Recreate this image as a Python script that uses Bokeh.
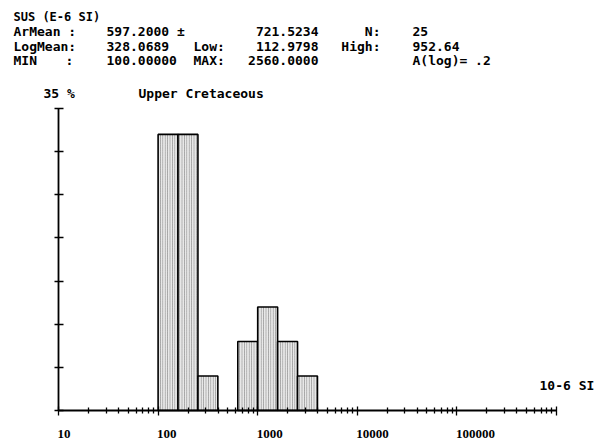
from bokeh.plotting import figure
from bokeh.models import (ColumnDataSource, Label, LabelSet, FixedTicker,
                          CustomJSTickFormatter, Range1d)
from bokeh.embed import file_html
from bokeh.resources import INLINE

# Susceptibility histogram: log10 bin edges (width A(log) = 0.2) and percent of N = 25
bin_left_log = [2.0, 2.2, 2.4, 2.8, 3.0, 3.2, 3.4]
bin_width_log = 0.2
percent = [32, 32, 4, 8, 12, 8, 4]

# Axis ticks
x_major_ticks = [10, 100, 1000, 10000, 100000, 1000000]
x_tick_labels = ["10", "100", "1000", "10000", "100000"]
y_ticks = [0, 5, 10, 15, 20, 25, 30, 35]

title_text = "Upper Cretaceous"
y_top_label = "35 %"
unit_label = "10-6 SI"

FONT = "DejaVu Sans Mono"
W, H = 594, 440

# plotting area in canvas pixels: x 10..1e6 -> 58..556, y 0..35 -> 410..108
X0, X1, Y0, Y1 = 58, 556, 410, 108
dec_px = (X1 - X0) / 5.0
pct_px = (Y0 - Y1) / 35.0
x_lo = 10 ** (1 - X0 / dec_px)
x_hi = 10 ** (6 + (W - X1) / dec_px)
y_lo = -(H - Y0) / pct_px
y_hi = 35 + Y1 / pct_px

left = [10 ** b for b in bin_left_log]
right = [10 ** (b + bin_width_log) for b in bin_left_log]
src = ColumnDataSource(dict(left=left, right=right, top=percent, bottom=[0] * len(percent)))

p = figure(x_axis_type="log", x_range=Range1d(x_lo, x_hi), y_range=Range1d(y_lo, y_hi),
           frame_width=W, frame_height=H, min_border=0,
           toolbar_location=None, output_backend="svg", background_fill_color="white",
           border_fill_color="white")
p.outline_line_color = None
p.grid.visible = False

p.quad(left="left", right="right", top="top", bottom="bottom", source=src,
       fill_color="#e8e8e8", line_color="black", line_width=1.6,
       hatch_pattern="vertical_line", hatch_scale=2.4, hatch_weight=0.7,
       hatch_color="#444444", hatch_alpha=0.7)

# x axis: log decades with 2..9 minor ticks crossing the line, drawn at y = 0
minor = [k * 10 ** d for d in range(1, 6) for k in range(2, 10)]
xa = p.xaxis[0]
xa.fixed_location = 0
xa.bounds = (10, 1e6)
xa.ticker = FixedTicker(ticks=x_major_ticks, minor_ticks=minor)
xa.formatter = CustomJSTickFormatter(code="return ''")
xa.axis_line_width = 1.8
xa.major_tick_in = 4
xa.major_tick_out = 5
xa.minor_tick_in = 3
xa.minor_tick_out = 3
xa.major_tick_line_width = 1.3
xa.minor_tick_line_width = 1.3

# y axis at x = 10, 0..35 %
ya = p.yaxis[0]
ya.fixed_location = 10
ya.bounds = (0, 35)
ya.ticker = FixedTicker(ticks=y_ticks)
ya.formatter = CustomJSTickFormatter(code="return ''")
ya.axis_line_width = 1.8
ya.major_tick_in = 5
ya.major_tick_out = 4
ya.major_tick_line_width = 1.5
ya.minor_tick_line_color = None

# tick labels, left aligned at each decade
lab_src = ColumnDataSource(dict(x=x_major_ticks[:-1], y=[-2.7] * len(x_tick_labels), t=x_tick_labels))
p.add_layout(LabelSet(x="x", y="y", text="t", source=lab_src, text_align="left",
                      text_baseline="middle", text_font=FONT, text_font_style="bold",
                      text_font_size="13px", text_color="black", x_offset=-1))


def put(text, x, y, align="left", size="13px"):
    p.add_layout(Label(x=x, y=y, x_units="canvas", y_units="canvas", text=text,
                       text_align=align, text_baseline="middle", text_font=FONT,
                       text_font_style="bold", text_font_size=size, text_color="black"))


# header block with summary statistics
put("SUS (E-6 SI)", 13, 16, size="12px")
put("ArMean :", 13, 31)
put("597.2000 \u00b1", 106, 31)
put("721.5234", 318, 31, "right")
put("N:", 380, 31, "right")
put("25", 412, 31)
put("LogMean:", 13, 45.5)
put("328.0689", 106, 45.5)
put("Low:", 193, 45.5)
put("112.9798", 318, 45.5, "right")
put("High:", 380, 45.5, "right")
put("952.64", 412, 45.5)
put("MIN", 13, 60)
put(":", 65, 60)
put("100.00000", 106, 60)
put("MAX:", 193, 60)
put("2560.0000", 318, 60, "right")
put("A(log)= .2", 412, 60)

put(y_top_label, 43, 93)
put(title_text, 138, 93)
put(unit_label, 539, 385)

open("out.html", "w").write(file_html(p, INLINE))
